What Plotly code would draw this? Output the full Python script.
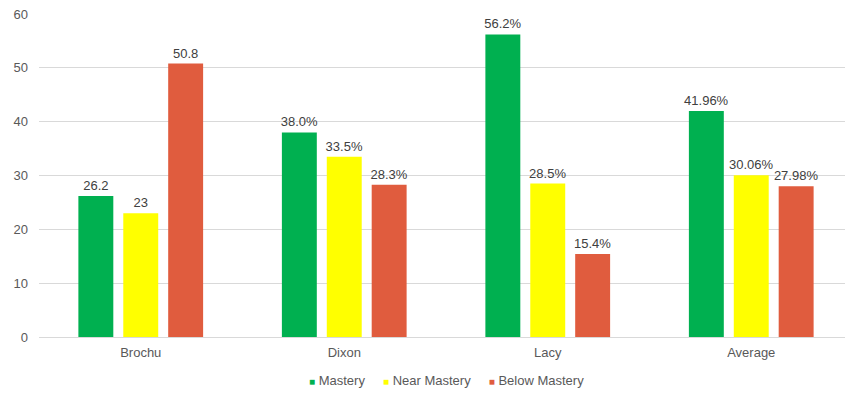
import plotly.graph_objects as go

categories = ["Brochu", "Dixon", "Lacy", "Average"]
mastery = [26.2, 38.0, 56.2, 41.96]
near_mastery = [23, 33.5, 28.5, 30.06]
below_mastery = [50.8, 28.3, 15.4, 27.98]
mastery_labels = ["26.2", "38.0%", "56.2%", "41.96%"]
near_labels = ["23", "33.5%", "28.5%", "30.06%"]
below_labels = ["50.8", "28.3%", "15.4%", "27.98%"]
series_names = ["Mastery", "Near Mastery", "Below Mastery"]
series_colors = ["#00B050", "#FFFF00", "#E05C3E"]

font_family = "Liberation Sans, Arial, sans-serif"
txt_color = "#404040"
axis_color = "#595959"

fig = go.Figure()
for name, vals, labels, color in zip(series_names,
                                     [mastery, near_mastery, below_mastery],
                                     [mastery_labels, near_labels, below_labels],
                                     series_colors):
    fig.add_trace(go.Bar(
        x=categories, y=vals, name=name, marker_color=color,
        marker_line_width=0,
        text=labels, textposition="outside", cliponaxis=False,
        constraintext="none",
        textfont=dict(size=13, color=txt_color, family=font_family),
    ))

legend_html = "&nbsp;&nbsp;&nbsp;&nbsp;&nbsp;".join(
    f'<span style="color:{c};font-size:10px">■</span>&nbsp;<span style="color:{axis_color}">{n}</span>'
    for n, c in zip(series_names, series_colors)
)

# the page body has an 8px default margin, so the figure is placed at (8, 8)
W, H = 845, 386
T, B, L = 6, 57, 31
plot_h = H - T - B

fig.update_layout(
    width=W, height=H,
    margin=dict(l=L, r=0, t=T, b=B, autoexpand=False),
    plot_bgcolor="white", paper_bgcolor="white",
    barmode="group", bargap=0.338, bargroupgap=0.222,
    font=dict(family=font_family, size=13, color=axis_color),
    showlegend=False,
    annotations=[dict(text=legend_html, x=0.5, xref="paper", xanchor="center",
                      y=-(372 - (T + plot_h)) / plot_h, yref="paper", yanchor="middle",
                      showarrow=False,
                      font=dict(size=13, color=axis_color, family=font_family))],
    xaxis=dict(showgrid=False, showline=False, ticks="", ticklabelstandoff=6,
               tickfont=dict(size=13, color=axis_color)),
    yaxis=dict(range=[0, 60], dtick=10, showgrid=True, gridcolor="#D9D9D9", gridwidth=1,
               zeroline=True, zerolinecolor="#D9D9D9", zerolinewidth=1,
               showline=False, ticks="", tickfont=dict(size=13, color=axis_color),
               ticklabelstandoff=10, ticklabeloverflow="allow"),
)

fig.write_html("out.html")
